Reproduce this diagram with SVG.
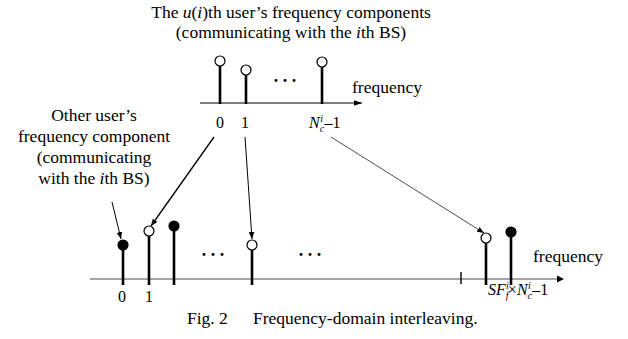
<svg xmlns="http://www.w3.org/2000/svg" width="628" height="339" viewBox="0 0 628 339">
  <style>
    text { font-family: "Liberation Serif", "Times New Roman", serif; fill: #000; }
    .t { font-size: 17.5px; }
    .lab { font-size: 16px; }
    .sm { font-size: 10px; font-style: italic; }
    .it { font-style: italic; }
    .mid { text-anchor: middle; }
    .dots { font-size: 18px; font-weight: bold; text-anchor: middle; }
    .stem { stroke: #000; stroke-width: 2.6; }
    .open { fill: #fff; stroke: #000; stroke-width: 1.2; }
    .full { fill: #000; stroke: #000; stroke-width: 1.2; }
    .axis-top { stroke: #000; stroke-width: 1.2; fill: none; }
    .axis-bot { stroke: #a6a6a6; stroke-width: 2.2; fill: none; }
    .link { stroke: #000; fill: none; }
  </style>
  <defs>
    <marker id="ah" viewBox="0 0 10 10" refX="10" refY="5" markerWidth="7" markerHeight="7" markerUnits="userSpaceOnUse" orient="auto">
      <path d="M0,1 L10,5 L0,9 Z" fill="#000"/>
    </marker>
    <marker id="axh" viewBox="0 0 10 10" refX="10" refY="5" markerWidth="8" markerHeight="8" markerUnits="userSpaceOnUse" orient="auto">
      <path d="M0,1.5 L10,5 L0,8.5 Z" fill="#000"/>
    </marker>
  </defs>

  <!-- heading of the upper spectrum -->
  <g id="title">
    <text class="t mid" x="291" y="18">The <tspan class="it">u</tspan>(<tspan class="it">i</tspan>)th user’s frequency components</text>
    <text class="t mid" x="291" y="38">(communicating with the <tspan class="it">i</tspan>th BS)</text>
  </g>

  <!-- upper spectrum: the u(i)th user's components -->
  <g id="top-spectrum">
    <line class="axis-top" x1="200" y1="103" x2="362" y2="103" marker-end="url(#axh)"/>
    <line class="stem" x1="220" y1="66" x2="220" y2="104"/>
    <circle class="open" cx="220" cy="61" r="5"/>
    <line class="stem" x1="246" y1="75" x2="246" y2="104"/>
    <circle class="open" cx="246" cy="70" r="5"/>
    <line class="stem" x1="322" y1="67" x2="322" y2="104"/>
    <circle class="open" cx="322" cy="62" r="5"/>
    <text class="dots" x="285" y="82">. . .</text>
    <text class="t" x="352" y="93">frequency</text>
    <text class="lab mid" x="220" y="128">0</text>
    <text class="lab mid" x="245" y="128">1</text>
    <text class="lab" x="309" y="128"><tspan class="it">N</tspan><tspan class="sm" dy="3.5">c</tspan><tspan class="sm" dx="-4" dy="-10">i</tspan><tspan dx="1.5" dy="6.5">–1</tspan></text>
  </g>

  <!-- note on the other user's component -->
  <g id="other-user">
    <text class="t mid" x="94" y="121">Other user’s</text>
    <text class="t mid" x="94" y="142">frequency component</text>
    <text class="t mid" x="94" y="163">(communicating</text>
    <text class="t mid" x="94" y="184">with the <tspan class="it">i</tspan>th BS)</text>
  </g>

  <!-- lower spectrum: interleaved components -->
  <g id="bottom-spectrum">
    <line class="axis-bot" x1="90" y1="279" x2="561" y2="279"/>
    <path d="M557,275.5 L564,279 L557,282.5 Z" fill="#000"/>
    <line class="stem" x1="123" y1="250" x2="123" y2="285"/>
    <circle class="full" cx="123" cy="245" r="5"/>
    <line class="stem" x1="149" y1="236" x2="149" y2="285"/>
    <circle class="open" cx="149" cy="231" r="5"/>
    <line class="stem" x1="174" y1="231" x2="174" y2="285"/>
    <circle class="full" cx="174" cy="226" r="5"/>
    <line class="stem" x1="252" y1="250" x2="252" y2="285"/>
    <circle class="open" cx="252" cy="245" r="5"/>
    <line x1="461" y1="272" x2="461" y2="284" stroke="#000" stroke-width="1.4"/>
    <line class="stem" x1="486" y1="243" x2="486" y2="285"/>
    <circle class="open" cx="486" cy="238" r="5"/>
    <line class="stem" x1="511" y1="237" x2="511" y2="285"/>
    <circle class="full" cx="511" cy="232" r="5"/>
    <text class="dots" x="213" y="256">. . .</text>
    <text class="dots" x="310" y="256">. . .</text>
    <text class="t" x="533" y="262">frequency</text>
    <text class="lab mid" x="122" y="302">0</text>
    <text class="lab mid" x="149" y="302">1</text>
    <text class="lab" x="488" y="295"><tspan class="it">SF</tspan><tspan class="sm" dy="3.5">f</tspan><tspan class="sm" dx="-2.5" dy="-10">i</tspan><tspan dx="-1" dy="6.5">×</tspan><tspan class="it">N</tspan><tspan class="sm" dy="3.5">c</tspan><tspan class="sm" dx="-4" dy="-10">i</tspan><tspan dx="1.5" dy="6.5">–1</tspan></text>
  </g>

  <!-- mapping arrows -->
  <g id="connectors">
    <line class="link" x1="214" y1="137" x2="151" y2="226" stroke-width="1.3" marker-end="url(#ah)"/>
    <line class="link" x1="245" y1="137" x2="252" y2="239" stroke-width="1" marker-end="url(#ah)"/>
    <line class="link" x1="331" y1="137" x2="484" y2="233" stroke-width="0.7" marker-end="url(#ah)"/>
    <line class="link" x1="112" y1="202" x2="121" y2="239" stroke-width="1" marker-end="url(#ah)"/>
  </g>

  <!-- caption -->
  <g id="caption">
    <text class="t" x="187" y="324">Fig. 2</text>
    <text class="t" x="253" y="324">Frequency-domain interleaving.</text>
  </g>
</svg>
